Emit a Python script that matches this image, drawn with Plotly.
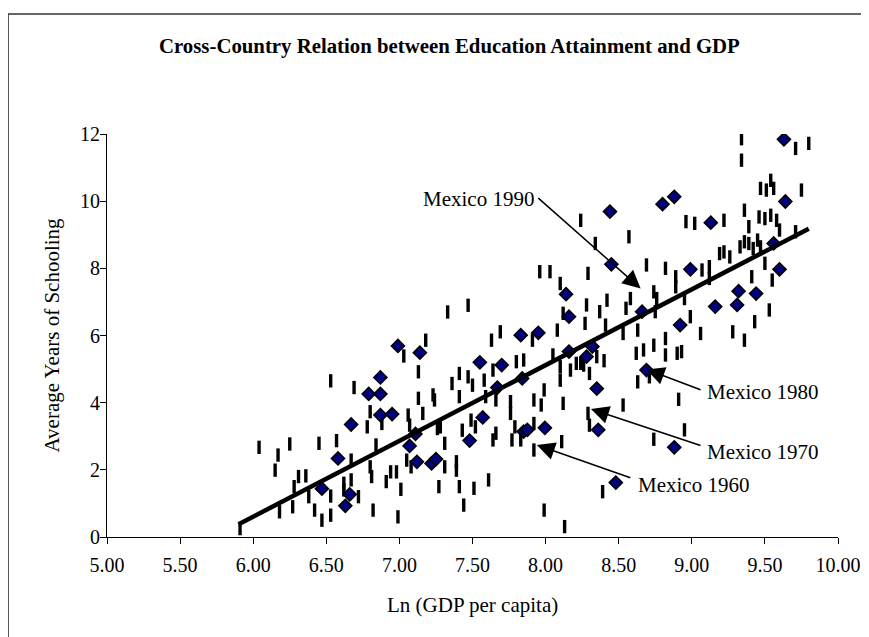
import plotly.graph_objects as go

# ---- data: all countries / years (black dashes) ----
dash_x = [5.91, 6.04, 6.17, 6.15, 6.25, 6.28, 6.31, 6.36, 6.27, 6.18, 6.45, 6.53, 6.57, 6.69, 6.42, 6.38,
          6.47, 6.53, 6.53, 6.62, 6.62, 6.67, 6.67, 6.72, 6.80, 6.78, 6.80, 6.81, 6.82, 6.84, 6.88, 6.91,
          6.94, 6.98, 6.99, 7.01, 7.03, 7.06, 7.07, 7.05, 7.08, 7.13, 7.13, 7.16, 7.18, 7.23, 7.24, 7.26,
          7.28, 7.31, 7.31, 7.27, 7.36, 7.41, 7.47, 7.50, 7.39, 7.39, 7.41, 7.44, 7.51, 7.41, 7.43, 7.49,
          7.52, 7.58, 7.59, 7.61, 7.63, 7.64, 7.66, 7.64, 7.66, 7.69, 7.76, 7.76, 7.77, 7.80, 7.83, 7.79,
          7.33, 7.47,
          7.91, 8.05, 8.10, 8.10, 8.12, 8.17, 8.21, 8.24, 8.26, 8.30, 8.35, 8.40, 8.29, 8.30, 8.53, 8.53,
          8.62, 8.63, 8.67, 8.71, 8.74, 8.82, 8.82, 8.90, 8.93, 8.91, 8.95, 8.74, 9.06, 9.28, 9.36, 7.92,
          7.97, 7.99, 7.92, 7.92, 8.11, 7.99, 8.13, 8.39, 7.85,
          9.34, 9.34, 9.71, 9.80, 9.47, 9.51, 9.54, 9.56, 9.75, 9.36, 9.39, 9.46, 9.50, 9.54, 9.58, 9.60,
          9.71, 9.50, 9.41, 9.55, 9.53, 9.43, 9.19, 9.22, 9.26, 9.33, 9.36, 9.39, 9.42, 9.45, 9.47, 8.96,
          9.02, 9.22, 8.24, 8.57, 8.34, 7.96, 8.03, 8.10, 8.29, 8.69, 8.82, 8.89, 8.89, 9.07, 9.12, 9.12,
          8.74, 8.76, 8.58, 8.55, 8.42, 8.37, 8.28, 8.27, 8.41, 8.63, 8.75, 8.95, 8.99, 8.12, 8.08]
dash_y = [0.25, 2.67, 2.44, 1.99, 2.77, 1.50, 1.80, 1.82, 0.90, 0.75, 2.79, 4.65, 2.87, 4.45, 0.80, 1.20,
          0.50, 1.22, 0.65, 1.60, 1.40, 1.70, 2.29, 1.20, 3.73, 3.28, 2.09, 1.80, 0.80, 2.74, 3.38, 1.65,
          1.94, 1.94, 0.60, 1.42, 5.39, 3.63, 3.33, 2.29, 2.09, 4.92, 4.13, 3.68, 5.86, 4.23, 4.08, 3.23,
          3.28, 2.79, 2.09, 1.50, 4.57, 4.87, 4.77, 4.52, 2.24, 1.99, 1.50, 0.95, 1.45, 4.18, 3.18, 3.48,
          3.28, 4.67, 4.18, 1.70, 5.86, 4.97, 4.08, 2.89, 3.09, 6.11, 4.03, 3.68, 2.89, 5.22, 2.89, 3.28,
          6.70, 6.90,
          5.86, 5.42, 5.07, 4.67, 3.98, 4.97, 5.17, 5.17, 5.12, 4.87, 5.37, 5.25, 3.68, 3.33, 3.93, 6.06,
          5.47, 4.62, 5.57, 4.77, 5.71, 5.91, 5.42, 5.47, 5.52, 4.10, 3.19, 2.91, 6.06, 6.11, 5.86, 4.08,
          3.93, 4.38, 3.38, 2.59, 2.84, 0.80, 0.31, 1.35, 5.27,
          11.86, 11.22, 11.57, 11.72, 10.38, 10.33, 10.62, 10.38, 10.33, 9.73, 9.24, 9.53, 9.48, 9.58, 9.43, 9.14,
          9.09, 8.15, 7.75, 7.65, 6.76, 6.41, 8.44, 8.49, 8.34, 8.64, 8.79, 8.74, 8.59, 8.84, 8.64, 9.39,
          9.34, 9.43, 9.43, 8.94, 8.74, 7.90, 7.90, 7.55, 7.85, 8.10, 8.00, 7.75, 7.45, 7.95, 8.05, 7.70,
          7.30, 7.10, 7.10, 6.81, 7.05, 6.71, 6.91, 6.36, 6.31, 6.16, 6.71, 7.10, 6.56, 6.66, 6.16]

# ---- data: highlighted observations (blue diamonds) ----
dia_x = [6.99, 7.14, 6.87, 6.79, 6.87, 6.67, 6.87, 6.95, 6.58, 6.47, 6.66, 6.63, 7.07, 7.11, 7.12, 7.22,
         7.25, 7.48, 7.57, 7.55, 7.70, 7.67, 7.83, 7.84, 7.85,
         7.95, 8.16, 8.28, 8.32, 8.69, 8.35, 7.875, 7.995, 8.36, 8.88, 8.48,
         9.63, 9.64, 8.80, 8.88, 8.44, 9.13, 8.45, 8.99, 9.60, 9.56, 8.14, 8.16, 9.32, 9.44, 9.16, 9.31,
         8.66, 8.92]
dia_y = [5.69, 5.49, 4.75, 4.26, 4.26, 3.35, 3.63, 3.66, 2.34, 1.44, 1.27, 0.93, 2.71, 3.07, 2.24, 2.19,
         2.32, 2.87, 3.56, 5.20, 5.12, 4.45, 6.01, 4.72, 3.14,
         6.08, 5.52, 5.37, 5.67, 4.97, 4.42, 3.19, 3.25, 3.19, 2.67, 1.62,
         11.84, 9.99, 9.91, 10.13, 9.69, 9.36, 8.12, 7.97, 7.97, 8.74, 7.23, 6.56, 7.32, 7.25, 6.86, 6.91,
         6.71, 6.31]

# ---- fitted line ----
fit_x = [5.90, 9.80]
fit_y = [0.38, 9.18]

# ---- Mexico labels ----
mex_labels = ["Mexico 1990", "Mexico 1980", "Mexico 1970", "Mexico 1960"]
mex_tip_x = [8.65, 8.69, 8.31, 7.94]
mex_tip_y = [7.40, 4.99, 3.81, 2.74]
mex_tail_x = [7.94, 9.07, 9.07, 8.59]
mex_tail_y = [10.13, 4.37, 2.71, 1.75]
mex_txt_x = [7.935, 9.09, 9.09, 8.615]
mex_txt_y = [10.06, 4.32, 2.53, 1.55]
mex_anchor = ["right", "left", "left", "left"]

x_ticks = [5.0, 5.5, 6.0, 6.5, 7.0, 7.5, 8.0, 8.5, 9.0, 9.5, 10.0]
y_ticks = [0, 2, 4, 6, 8, 10, 12]

FONT = "Liberation Serif, Times New Roman, serif"

fig = go.Figure()
fig.add_trace(go.Scatter(
    x=dash_x, y=dash_y, mode="markers",
    marker=dict(symbol="line-ns", size=9.5, line=dict(color="black", width=3.4)),
    hoverinfo="x+y", showlegend=False))
fig.add_trace(go.Scatter(
    x=dia_x, y=dia_y, mode="markers",
    marker=dict(symbol="diamond", size=10, color="#000080", line=dict(color="black", width=1.6)),
    hoverinfo="x+y", showlegend=False))
fig.add_trace(go.Scatter(
    x=fit_x, y=fit_y, mode="lines", line=dict(color="black", width=4.5),
    hoverinfo="skip", showlegend=False))

annotations = []
for i in range(len(mex_labels)):
    annotations.append(dict(
        x=mex_tip_x[i], y=mex_tip_y[i], ax=mex_tail_x[i], ay=mex_tail_y[i],
        xref="x", yref="y", axref="x", ayref="y", text="", showarrow=True,
        arrowhead=2, arrowsize=2.4, arrowwidth=1.5, arrowcolor="black", standoff=0))
    annotations.append(dict(
        x=mex_txt_x[i], y=mex_txt_y[i], xref="x", yref="y", text=mex_labels[i],
        showarrow=False, xanchor=mex_anchor[i], yanchor="middle",
        font=dict(family=FONT, size=21, color="black")))

annotations += [
    dict(text="<b>Cross-Country Relation between Education Attainment and GDP</b>",
         x=0.4679, y=1.2184, xref="paper", yref="paper", showarrow=False,
         xanchor="center", yanchor="middle", font=dict(family=FONT, size=20.8, color="black")),
    dict(text="Ln (GDP per capita)", x=0.5, y=-0.168, xref="paper", yref="paper",
         showarrow=False, xanchor="center", yanchor="middle",
         font=dict(family=FONT, size=21, color="black")),
    dict(text="Average Years of Schooling", x=-0.0766, y=0.5, xref="paper", yref="paper",
         showarrow=False, xanchor="center", yanchor="middle", textangle=-90,
         font=dict(family=FONT, size=21, color="black")),
]

shapes = [
    dict(type="line", xref="paper", yref="paper", x0=-0.1354, x1=1.2, y0=1.2978, y1=1.2978,
         line=dict(color="#333333", width=1.6)),
    dict(type="line", xref="paper", yref="paper", x0=-0.1354, x1=-0.1354, y0=1.2978, y1=-0.5,
         line=dict(color="#333333", width=1.6)),
]

fig.update_layout(
    width=869, height=637,
    margin=dict(l=99, r=39, t=126, b=108),
    paper_bgcolor="white", plot_bgcolor="white",
    font=dict(family=FONT, size=20, color="black"),
    annotations=annotations, shapes=shapes,
    xaxis=dict(range=[5, 10], tickvals=x_ticks, ticktext=[f"{v:.2f}" for v in x_ticks],
               showgrid=False, zeroline=False, showline=True, linecolor="black", linewidth=1,
               ticks="outside", ticklen=6, tickcolor="black", tickwidth=1, ticklabelstandoff=4,
               tickfont=dict(family=FONT, size=20, color="black")),
    yaxis=dict(range=[0, 12], tickvals=y_ticks, showgrid=False, zeroline=False,
               showline=True, linecolor="black", linewidth=1,
               ticks="outside", ticklen=6, tickcolor="black", tickwidth=1, ticklabelstandoff=-4,
               tickfont=dict(family=FONT, size=20, color="black")),
)

fig.write_html("out.html")
